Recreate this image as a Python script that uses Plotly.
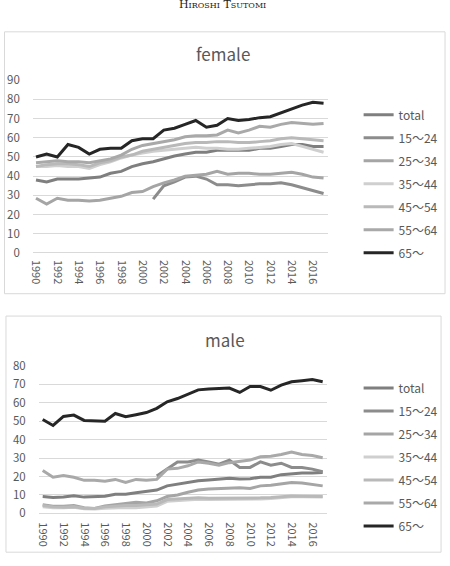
import plotly.graph_objects as go

years = list(range(1990, 2018))
series_names = ["total", "15～24", "25～34", "35～44", "45～54", "55～64", "65～"]
N = None

female_total = [38, 37, 38.5, 38.5, 38.5, 39, 39.5, 41.5, 42.5, 45, 46.5, 47.5, 49, 50.5,
                51.5, 52.5, 52.5, 53.5, 53.5, 53.5, 53.5, 54.5, 54.5, 55.5, 56.5, 56.5, 55.5, 55.5]
female_15_24 = [N, N, N, N, N, N, N, N, N, N, N, 28, 35, 37, 39.5, 40, 38.5, 35.5, 35.5, 35,
                35.5, 36, 36, 36.5, 35.5, 34, 32.5, 31]
female_25_34 = [28.5, 25.5, 28.5, 27.5, 27.5, 27, 27.5, 28.5, 29.5, 31.5, 32, 34.5, 36.5, 38,
                40, 40.5, 41, 42.5, 41, 41.5, 41.5, 41, 41, 41.5, 42, 41, 39.5, 39]
female_35_44 = [45, 45, 45.5, 45, 45, 44, 46, 47.5, 49.5, 51, 52, 53, 53.5, 54,
                54.5, 55, 54.5, 54.5, 54, 54, 54.5, 55, 55.5, 56.5, 57, 55.5, 54, 52.5]
female_45_54 = [45, 46, 46.5, 46.5, 46, 45, 47, 48, 50, 51, 53, 54, 55, 56,
                57, 57.5, 57.5, 58, 58, 57.5, 57.5, 58, 58.5, 59.5, 60, 59.5, 59, 58.5]
female_55_64 = [47, 47.5, 48, 47.5, 47.5, 47, 48, 49, 51, 54, 56, 57, 58, 59,
                60.5, 61, 61, 61.5, 64, 62.5, 64, 66, 65.5, 67, 68, 67.5, 67, 67.5]
female_65 = [50, 51.5, 50, 56.5, 55, 51.5, 54, 54.5, 54.5, 58.5, 59.5, 59.5, 64, 65,
             67, 69, 65.5, 66.5, 70, 69, 69.5, 70.5, 71, 73, 75, 77, 78.5, 78]

male_total = [9.1, 8.6, 8.9, 9.5, 8.8, 8.9, 9.3, 10.4, 10.4, 11.2, 11.8, 12.6, 14.9, 15.8,
              16.7, 17.7, 18.1, 18.4, 19.1, 18.6, 18.8, 19.6, 19.6, 21, 21.6, 21.9, 21.9, 22.1]
male_15_24 = [N, N, N, N, N, N, N, N, N, N, N, 20.2, 24, 27.9, 27.9, 28.9, 27.9, 26.7, 28.9,
              24.9, 24.9, 27.9, 26.1, 27.2, 24.9, 24.9, 24, 22.6]
male_25_34 = [4.7, 3.9, 3.9, 4.2, 3, 2.6, 4, 4.7, 5.1, 6, 5.6, 6.8, 9.1, 10,
              11.4, 12.6, 13.2, 13.5, 13.9, 13.9, 13.5, 14.9, 15.3, 16.1, 16.7, 16.5, 15.8, 14.9]
male_35_44 = [3.5, 3, 3, 3.3, 2.5, 2.3, 2.8, 3.2, 3.2, 3, 3.5, 4, 6.5, 7,
              7.2, 7.7, 7.5, 7.5, 7.7, 7.5, 7.6, 7.8, 8, 8.5, 9, 9, 8.8, 8.8]
male_45_54 = [4.2, 3.5, 3.3, 3.5, 2.8, 2.6, 3.5, 4, 4.2, 4.2, 4.6, 5, 7.5, 7.8,
              8, 8.5, 8.2, 8.2, 8.2, 8, 8.2, 8.4, 8.6, 9, 9.4, 9.3, 9.2, 9.1]
male_55_64 = [23.2, 19.6, 20.5, 19.6, 17.9, 17.9, 17.4, 18.4, 16.7, 18.4, 17.9, 18.4, 24, 24.4,
              25.8, 27.9, 27.2, 26.1, 27.5, 28.4, 28.9, 30.7, 31, 31.9, 33.2, 31.9, 31.4, 30.2]
male_65 = [50.9, 47.7, 52.6, 53.3, 50.4, 50.4, 50, 54.2, 52.4, 53.5, 54.7, 57, 60.5, 62.3,
           64.7, 67, 67.5, 67.9, 68, 65.6, 68.8, 68.8, 66.8, 69.6, 71.4, 72, 72.6, 71.4]

female = [female_total, female_15_24, female_25_34, female_35_44, female_45_54, female_55_64, female_65]
male = [male_total, male_15_24, male_25_34, male_35_44, male_45_54, male_55_64, male_65]

colors = ["#7f7f7f", "#8c8c8c", "#a5a5a5", "#cfcfcf", "#b9b9b9", "#a9a9a9", "#262626"]

W, H = 450, 566
def px_x(p): return p / W
def px_y(p): return 1 - p / H

FONT = "Noto Sans CJK JP, Noto Sans, sans-serif"
TXT = "#595959"

fig = go.Figure()
for i, name in enumerate(series_names):
    fig.add_trace(go.Scatter(x=years, y=female[i], name=name, mode="lines",
                             line=dict(color=colors[i], width=3), xaxis="x", yaxis="y",
                             legend="legend", legendgroup="f" + str(i), connectgaps=False))
for i, name in enumerate(series_names):
    fig.add_trace(go.Scatter(x=years, y=male[i], name=name, mode="lines",
                             line=dict(color=colors[i], width=3), xaxis="x2", yaxis="y2",
                             legend="legend2", legendgroup="m" + str(i), connectgaps=False))

def xax(domain, rng, standoff):
    return dict(domain=domain, range=rng, tickmode="linear", tick0=1990, dtick=2,
                tickangle=90, showgrid=False, showline=False, zeroline=False, ticks="",
                tickfont=dict(family=FONT, size=11, color=TXT), ticklabelstandoff=standoff)

def yax(domain, rng):
    return dict(domain=domain, range=rng, tickmode="linear", tick0=0, dtick=10,
                showgrid=True, gridcolor="#d9d9d9", gridwidth=1, zeroline=True,
                zerolinecolor="#d9d9d9", zerolinewidth=1, showline=False, ticks="",
                tickfont=dict(family=FONT, size=11.5, color=TXT), ticklabelstandoff=12)

fig.update_layout(
    width=W, height=H, margin=dict(l=0, r=0, t=0, b=0),
    paper_bgcolor="white", plot_bgcolor="white",
    xaxis=dict(**xax([px_x(30), px_x(327)], [1989.7, 2017.4], 6), anchor="y"),
    yaxis=dict(**yax([px_y(251), px_y(73.3)], [0, 90]), anchor="x"),
    xaxis2=dict(**xax([px_x(36), px_x(326)], [1989.62, 2017.4], 8), anchor="y2"),
    yaxis2=dict(**yax([px_y(519), px_y(367.3)], [0, 80]), anchor="x2"),
    legend=dict(x=px_x(358), y=px_y(94), xanchor="left", yanchor="top",
                font=dict(family=FONT, size=12, color=TXT), tracegroupgap=4,
                bgcolor="rgba(0,0,0,0)", itemwidth=30),
    legend2=dict(x=px_x(358), y=px_y(375), xanchor="left", yanchor="top",
                 font=dict(family=FONT, size=12, color=TXT), tracegroupgap=4,
                 bgcolor="rgba(0,0,0,0)", itemwidth=30),
    showlegend=True,
    shapes=[
        dict(type="rect", xref="paper", yref="paper", x0=px_x(1.5), x1=px_x(445),
             y0=px_y(293), y1=px_y(23.5), line=dict(color="#d9d9d9", width=1)),
        dict(type="rect", xref="paper", yref="paper", x0=px_x(3), x1=px_x(441),
             y0=px_y(559), y1=px_y(316), line=dict(color="#d9d9d9", width=1)),
    ],
    annotations=[
        dict(text="female", xref="paper", yref="paper", x=px_x(221), y=px_y(46),
             xanchor="center", yanchor="middle", showarrow=False,
             font=dict(family=FONT, size=17, color=TXT)),
        dict(text="male", xref="paper", yref="paper", x=px_x(223), y=px_y(340),
             xanchor="center", yanchor="middle", showarrow=False,
             font=dict(family=FONT, size=17, color=TXT)),
        dict(text="H<span style='font-size:8px'>IROSHI</span> T<span style='font-size:8px'>SUTOMI</span>",
             xref="paper", yref="paper", x=px_x(221), y=1, yshift=5, xanchor="center",
             yanchor="middle", showarrow=False,
             font=dict(family="DejaVu Serif, Liberation Serif, serif", size=11, color="#222222")),
    ],
)

fig.write_html("out.html")
